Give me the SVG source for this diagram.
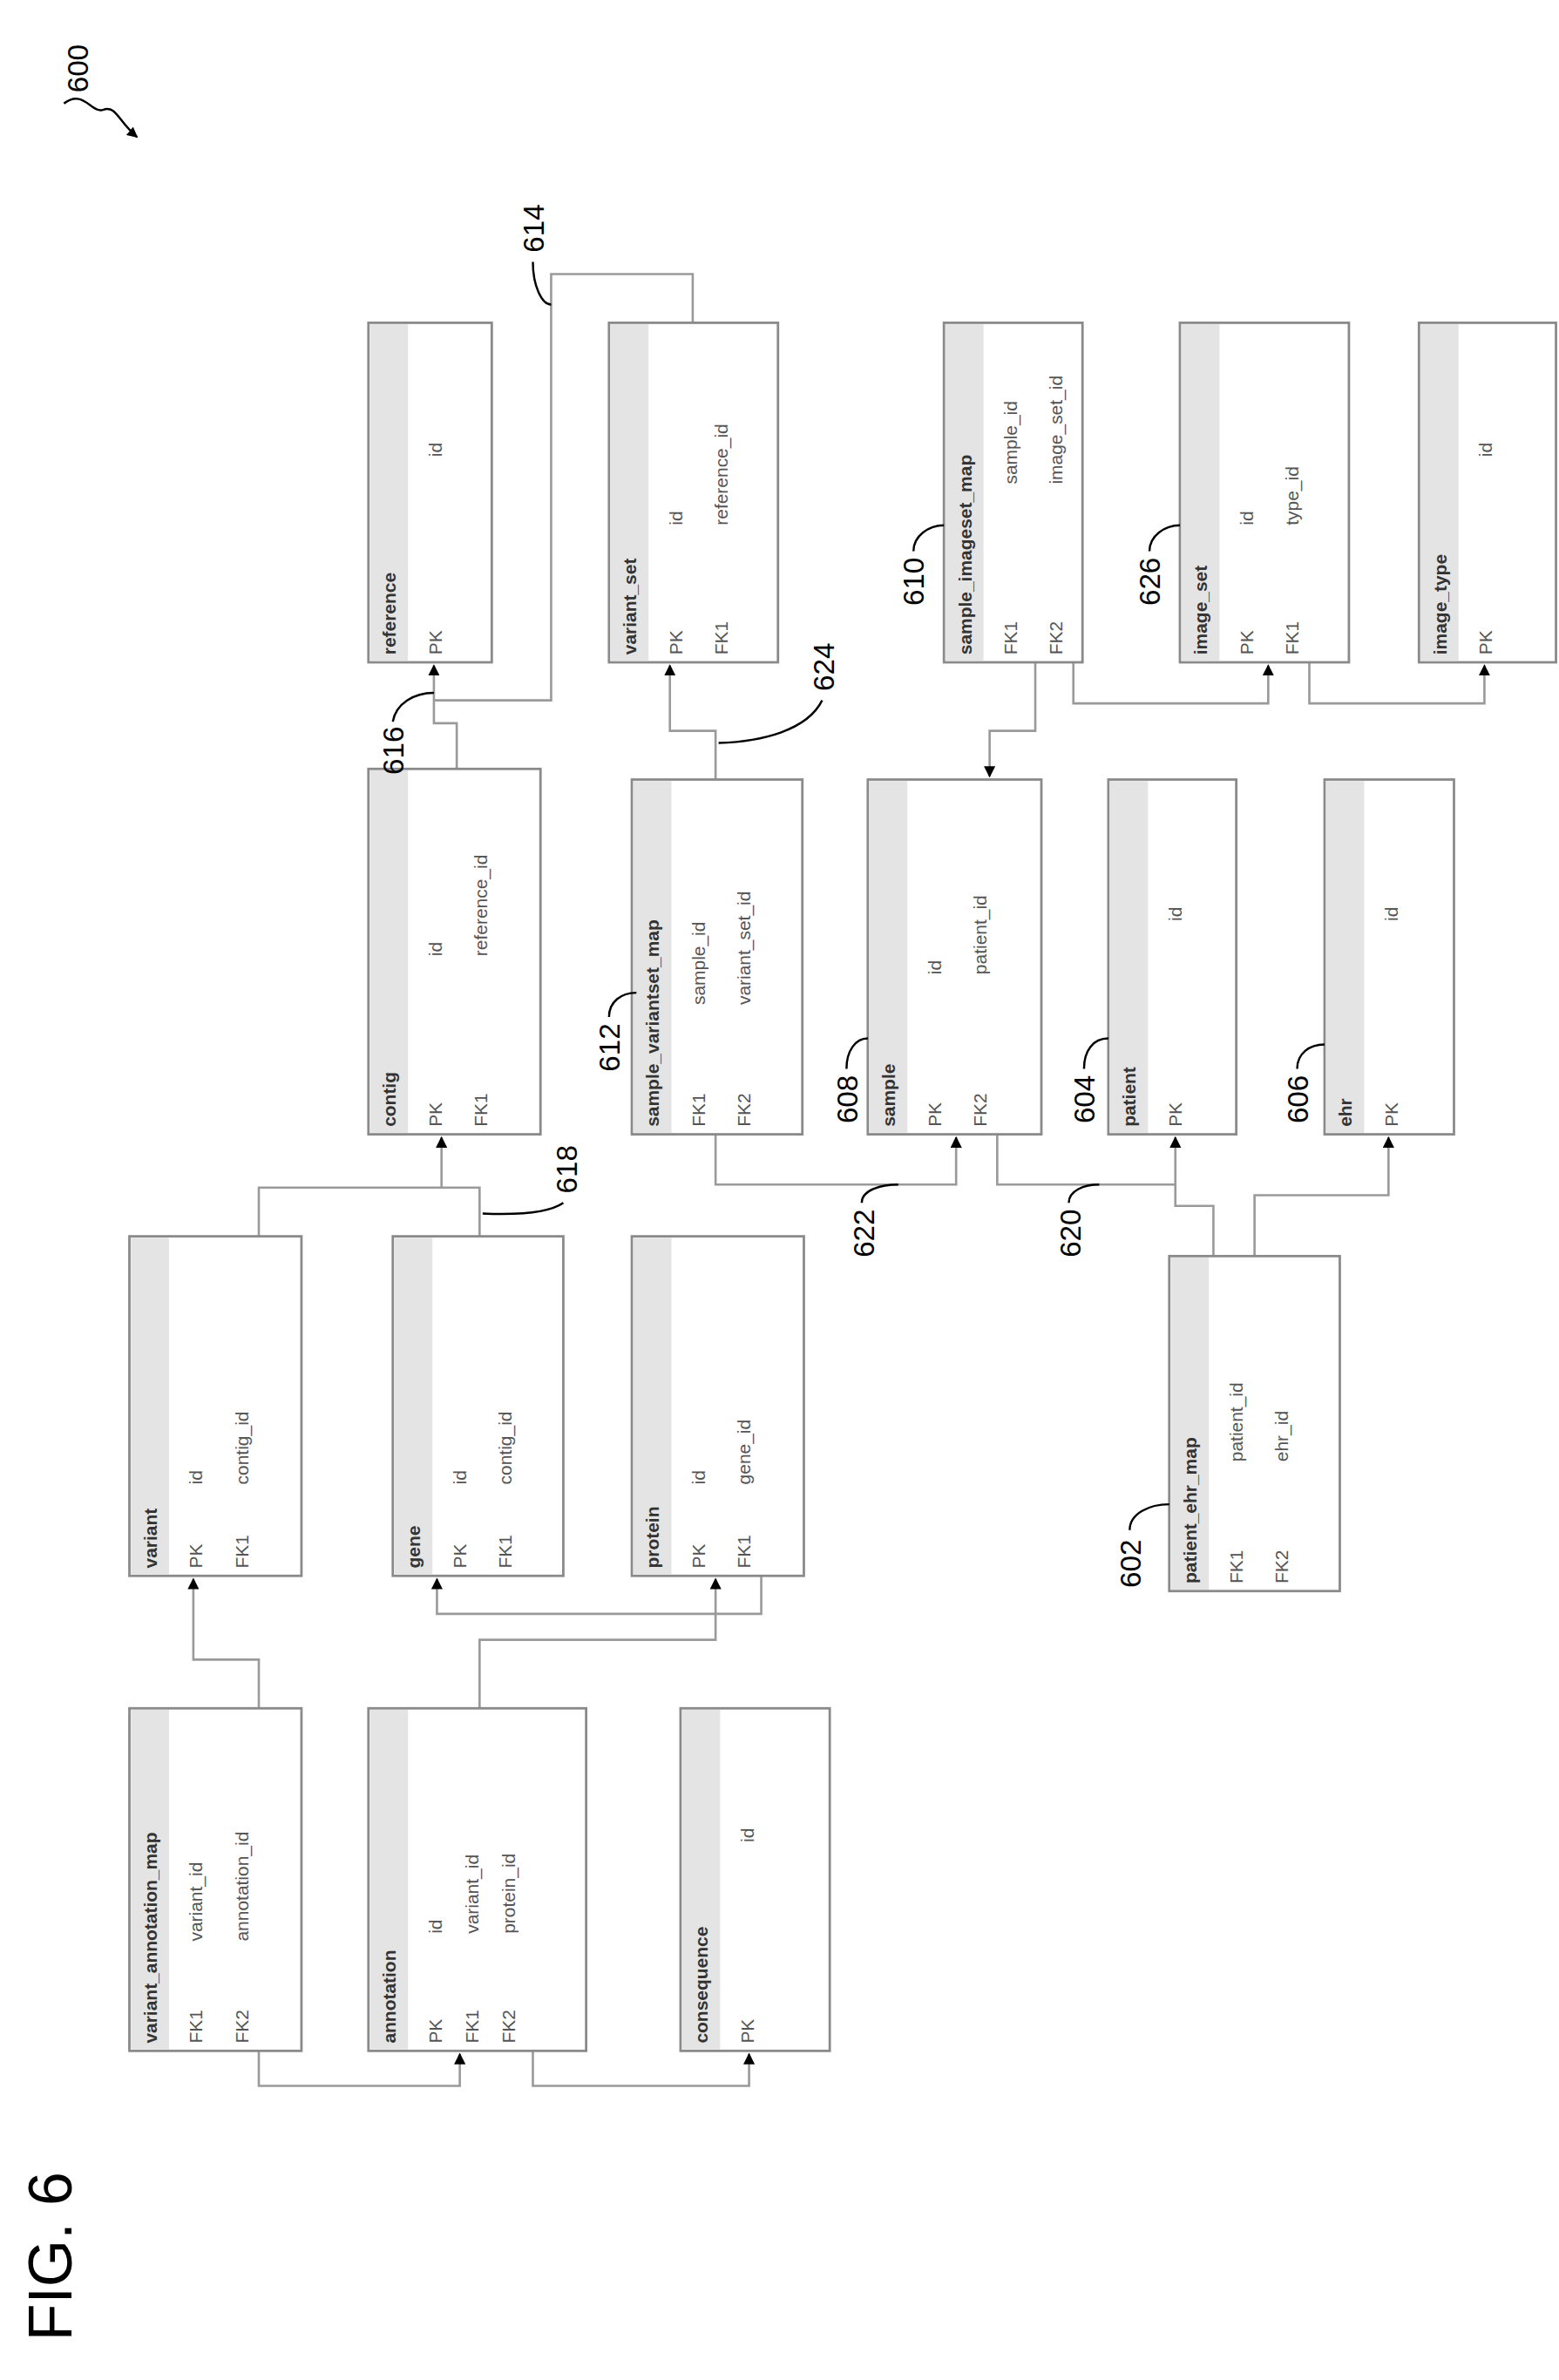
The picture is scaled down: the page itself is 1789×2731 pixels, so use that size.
<svg xmlns="http://www.w3.org/2000/svg" width="1789" height="2731" viewBox="0 0 1789 2731">
<defs>
<style>
.bx{fill:#fff;stroke:#8a8a8a;stroke-width:1.6}
.band{fill:#e4e4e4}
.t{font-family:"Liberation Sans",Arial,sans-serif;font-size:12px;fill:#555}
.tt{font-family:"Liberation Sans",Arial,sans-serif;font-size:12px;fill:#333;font-weight:bold}
.c{fill:none;stroke:#9a9a9a;stroke-width:1.5}
.ld{fill:none;stroke:#000;stroke-width:1.4}
.n{font-family:"Liberation Sans",Arial,sans-serif;font-size:19px;fill:#000}
</style>
<marker id="ar" viewBox="0 0 10 10" refX="9" refY="5" markerWidth="5" markerHeight="5" orient="auto"><path d="M0,0L10,5L0,10z" fill="#000"/></marker>
</defs>
<rect width="1789" height="2731" fill="#fff"/>
<g transform="scale(1.7471)">
<g id="connectors">
<path class="c" marker-end="url(#ar)" d="M300,505V475H285V437"/>
<path class="c" d="M455,212V180H362V460H285"/>
<path class="c" marker-end="url(#ar)" d="M470,512V480H440V437"/>
<path class="c" marker-end="url(#ar)" d="M680,435V480H650V510"/>
<path class="c" marker-end="url(#ar)" d="M705,435V462H833V437"/>
<path class="c" marker-end="url(#ar)" d="M860,435V462H975V437"/>
<path class="c" d="M170,812V780H315V812"/>
<path class="c" marker-end="url(#ar)" d="M290,780V747"/>
<path class="c" marker-end="url(#ar)" d="M470,745V778H628V747"/>
<path class="c" marker-end="url(#ar)" d="M655,745V778H772V747"/>
<path class="c" d="M797,825V792H772V778"/>
<path class="c" marker-end="url(#ar)" d="M824,825V785H912V747"/>
<path class="c" marker-end="url(#ar)" d="M170,1122V1090H127V1037"/>
<path class="c" marker-end="url(#ar)" d="M315,1122V1077H470V1037"/>
<path class="c" marker-end="url(#ar)" d="M500,1035V1060H287V1037"/>
<path class="c" marker-end="url(#ar)" d="M170,1347V1370H302V1349"/>
<path class="c" marker-end="url(#ar)" d="M350,1347V1370H492V1349"/>
</g>

<g id="reference"><rect class="bx" x="242" y="212" width="81" height="223"/><rect class="band" x="243" y="213" width="25" height="221"/>
<text class="tt" transform="translate(260,430) rotate(-90)">reference</text>
<text class="t" transform="translate(290,430) rotate(-90)">PK</text><text class="t" transform="translate(290,300) rotate(-90)">id</text></g>

<g id="variant_set"><rect class="bx" x="400" y="212" width="111" height="223"/><rect class="band" x="401" y="213" width="25" height="221"/>
<text class="tt" transform="translate(418,430) rotate(-90)">variant_set</text>
<text class="t" transform="translate(448,430) rotate(-90)">PK</text><text class="t" transform="translate(448,345) rotate(-90)">id</text>
<text class="t" transform="translate(478,430) rotate(-90)">FK1</text><text class="t" transform="translate(478,345) rotate(-90)">reference_id</text></g>

<g id="sample_imageset_map"><rect class="bx" x="620" y="212" width="91" height="223"/><rect class="band" x="621" y="213" width="25" height="221"/>
<text class="tt" transform="translate(638,430) rotate(-90)">sample_imageset_map</text>
<text class="t" transform="translate(668,430) rotate(-90)">FK1</text><text class="t" transform="translate(668,318) rotate(-90)">sample_id</text>
<text class="t" transform="translate(698,430) rotate(-90)">FK2</text><text class="t" transform="translate(698,318) rotate(-90)">image_set_id</text></g>

<g id="image_set"><rect class="bx" x="775" y="212" width="111" height="223"/><rect class="band" x="776" y="213" width="25" height="221"/>
<text class="tt" transform="translate(793,430) rotate(-90)">image_set</text>
<text class="t" transform="translate(823,430) rotate(-90)">PK</text><text class="t" transform="translate(823,345) rotate(-90)">id</text>
<text class="t" transform="translate(853,430) rotate(-90)">FK1</text><text class="t" transform="translate(853,345) rotate(-90)">type_id</text></g>

<g id="image_type"><rect class="bx" x="932" y="212" width="90" height="223"/><rect class="band" x="933" y="213" width="25" height="221"/>
<text class="tt" transform="translate(950,430) rotate(-90)">image_type</text>
<text class="t" transform="translate(980,430) rotate(-90)">PK</text><text class="t" transform="translate(980,300) rotate(-90)">id</text></g>

<g id="contig"><rect class="bx" x="242" y="505" width="113" height="240"/><rect class="band" x="243" y="506" width="25" height="238"/>
<text class="tt" transform="translate(260,740) rotate(-90)">contig</text>
<text class="t" transform="translate(290,740) rotate(-90)">PK</text><text class="t" transform="translate(290,628) rotate(-90)">id</text>
<text class="t" transform="translate(320,740) rotate(-90)">FK1</text><text class="t" transform="translate(320,628) rotate(-90)">reference_id</text></g>

<g id="sample_variantset_map"><rect class="bx" x="415" y="512" width="112" height="233"/><rect class="band" x="416" y="513" width="25" height="231"/>
<text class="tt" transform="translate(433,740) rotate(-90)">sample_variantset_map</text>
<text class="t" transform="translate(463,740) rotate(-90)">FK1</text><text class="t" transform="translate(463,660) rotate(-90)">sample_id</text>
<text class="t" transform="translate(493,740) rotate(-90)">FK2</text><text class="t" transform="translate(493,660) rotate(-90)">variant_set_id</text></g>

<g id="sample"><rect class="bx" x="570" y="512" width="114" height="233"/><rect class="band" x="571" y="513" width="25" height="231"/>
<text class="tt" transform="translate(588,740) rotate(-90)">sample</text>
<text class="t" transform="translate(618,740) rotate(-90)">PK</text><text class="t" transform="translate(618,640) rotate(-90)">id</text>
<text class="t" transform="translate(648,740) rotate(-90)">FK2</text><text class="t" transform="translate(648,640) rotate(-90)">patient_id</text></g>

<g id="patient"><rect class="bx" x="728" y="512" width="84" height="233"/><rect class="band" x="729" y="513" width="25" height="231"/>
<text class="tt" transform="translate(746,740) rotate(-90)">patient</text>
<text class="t" transform="translate(776,740) rotate(-90)">PK</text><text class="t" transform="translate(776,605) rotate(-90)">id</text></g>

<g id="ehr"><rect class="bx" x="870" y="512" width="85" height="233"/><rect class="band" x="871" y="513" width="25" height="231"/>
<text class="tt" transform="translate(888,740) rotate(-90)">ehr</text>
<text class="t" transform="translate(918,740) rotate(-90)">PK</text><text class="t" transform="translate(918,605) rotate(-90)">id</text></g>

<g id="variant"><rect class="bx" x="85" y="812" width="113" height="223"/><rect class="band" x="86" y="813" width="25" height="221"/>
<text class="tt" transform="translate(103,1030) rotate(-90)">variant</text>
<text class="t" transform="translate(133,1030) rotate(-90)">PK</text><text class="t" transform="translate(133,975) rotate(-90)">id</text>
<text class="t" transform="translate(163,1030) rotate(-90)">FK1</text><text class="t" transform="translate(163,975) rotate(-90)">contig_id</text></g>

<g id="gene"><rect class="bx" x="258" y="812" width="112" height="223"/><rect class="band" x="259" y="813" width="25" height="221"/>
<text class="tt" transform="translate(276,1030) rotate(-90)">gene</text>
<text class="t" transform="translate(306,1030) rotate(-90)">PK</text><text class="t" transform="translate(306,975) rotate(-90)">id</text>
<text class="t" transform="translate(336,1030) rotate(-90)">FK1</text><text class="t" transform="translate(336,975) rotate(-90)">contig_id</text></g>

<g id="protein"><rect class="bx" x="415" y="812" width="113" height="223"/><rect class="band" x="416" y="813" width="25" height="221"/>
<text class="tt" transform="translate(433,1030) rotate(-90)">protein</text>
<text class="t" transform="translate(463,1030) rotate(-90)">PK</text><text class="t" transform="translate(463,975) rotate(-90)">id</text>
<text class="t" transform="translate(493,1030) rotate(-90)">FK1</text><text class="t" transform="translate(493,975) rotate(-90)">gene_id</text></g>

<g id="patient_ehr_map"><rect class="bx" x="768" y="825" width="112" height="220"/><rect class="band" x="769" y="826" width="25" height="218"/>
<text class="tt" transform="translate(786,1040) rotate(-90)">patient_ehr_map</text>
<text class="t" transform="translate(816,1040) rotate(-90)">FK1</text><text class="t" transform="translate(816,960) rotate(-90)">patient_id</text>
<text class="t" transform="translate(846,1040) rotate(-90)">FK2</text><text class="t" transform="translate(846,960) rotate(-90)">ehr_id</text></g>

<g id="variant_annotation_map"><rect class="bx" x="85" y="1122" width="113" height="225"/><rect class="band" x="86" y="1123" width="25" height="223"/>
<text class="tt" transform="translate(103,1342) rotate(-90)">variant_annotation_map</text>
<text class="t" transform="translate(133,1342) rotate(-90)">FK1</text><text class="t" transform="translate(133,1275) rotate(-90)">variant_id</text>
<text class="t" transform="translate(163,1342) rotate(-90)">FK2</text><text class="t" transform="translate(163,1275) rotate(-90)">annotation_id</text></g>

<g id="annotation"><rect class="bx" x="242" y="1122" width="143" height="225"/><rect class="band" x="243" y="1123" width="25" height="223"/>
<text class="tt" transform="translate(260,1342) rotate(-90)">annotation</text>
<text class="t" transform="translate(290,1342) rotate(-90)">PK</text><text class="t" transform="translate(290,1270) rotate(-90)">id</text>
<text class="t" transform="translate(314,1342) rotate(-90)">FK1</text><text class="t" transform="translate(314,1270) rotate(-90)">variant_id</text>
<text class="t" transform="translate(338,1342) rotate(-90)">FK2</text><text class="t" transform="translate(338,1270) rotate(-90)">protein_id</text></g>

<g id="consequence"><rect class="bx" x="447" y="1122" width="98" height="225"/><rect class="band" x="448" y="1123" width="25" height="223"/>
<text class="tt" transform="translate(465,1342) rotate(-90)">consequence</text>
<text class="t" transform="translate(495,1342) rotate(-90)">PK</text><text class="t" transform="translate(495,1210) rotate(-90)">id</text></g>

<g id="labels">
<text class="n" transform="translate(58,45) rotate(-90)" text-anchor="middle">600</text>
<path class="ld" marker-end="url(#ar)" d="M42,68C55,58 60,75 68,72S78,80 90,90"/>
<text class="n" transform="translate(357,150) rotate(-90)" text-anchor="middle">614</text>
<path class="ld" d="M350,172C350,188 356,200 362,200"/>
<text class="n" transform="translate(265,493) rotate(-90)" text-anchor="middle">616</text>
<path class="ld" d="M258,474C260,462 272,455 285,455"/>
<text class="n" transform="translate(548,438) rotate(-90)" text-anchor="middle">624</text>
<path class="ld" d="M540,460C530,480 500,487 472,488"/>
<text class="n" transform="translate(407,688) rotate(-90)" text-anchor="middle">612</text>
<path class="ld" d="M400,668C400,658 408,652 418,652"/>
<text class="n" transform="translate(607,382) rotate(-90)" text-anchor="middle">610</text>
<path class="ld" d="M600,362C600,352 610,345 620,345"/>
<text class="n" transform="translate(762,382) rotate(-90)" text-anchor="middle">626</text>
<path class="ld" d="M755,362C755,352 765,345 775,345"/>
<text class="n" transform="translate(563,722) rotate(-90)" text-anchor="middle">608</text>
<path class="ld" d="M556,702C556,690 562,682 570,682"/>
<text class="n" transform="translate(719,722) rotate(-90)" text-anchor="middle">604</text>
<path class="ld" d="M712,702C712,690 718,682 728,682"/>
<text class="n" transform="translate(859,722) rotate(-90)" text-anchor="middle">606</text>
<path class="ld" d="M852,702C852,692 860,686 870,686"/>
<text class="n" transform="translate(379,768) rotate(-90)" text-anchor="middle">618</text>
<path class="ld" d="M370,790C360,797 340,798 317,797"/>
<text class="n" transform="translate(574,810) rotate(-90)" text-anchor="middle">622</text>
<path class="ld" d="M566,790C566,782 578,778 590,778"/>
<text class="n" transform="translate(710,810) rotate(-90)" text-anchor="middle">620</text>
<path class="ld" d="M702,790C702,782 712,778 722,778"/>
<text class="n" transform="translate(749,1027) rotate(-90)" text-anchor="middle">602</text>
<path class="ld" d="M742,1005C742,994 755,988 768,988"/>
<text transform="translate(47,1482) rotate(-90)" text-anchor="middle" font-family="Liberation Sans,Arial,sans-serif" font-size="40">FIG. 6</text>
</g>
</g>
</svg>
